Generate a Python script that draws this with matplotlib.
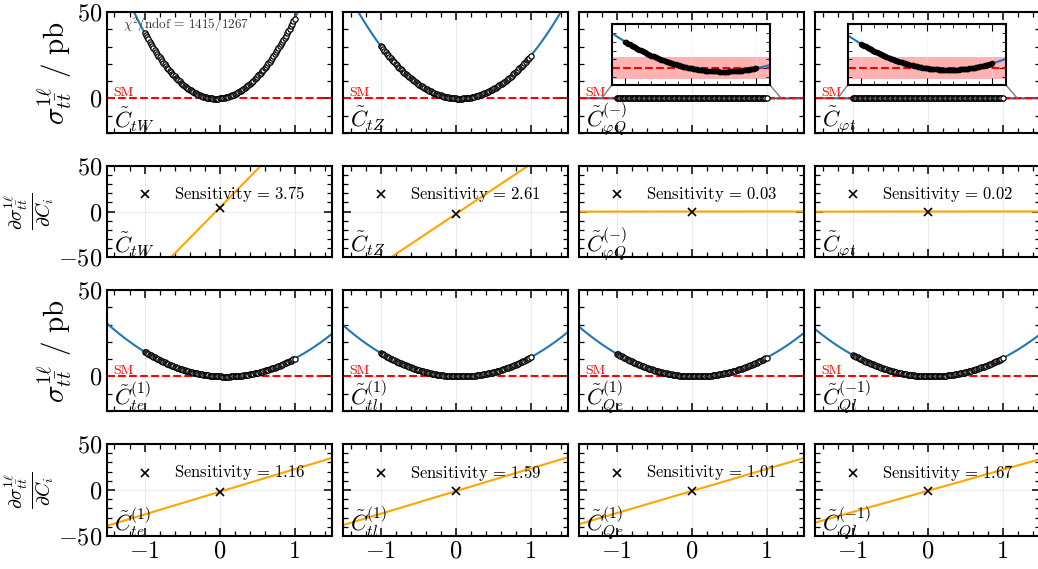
import numpy as np
import matplotlib.pyplot as plt
from matplotlib.ticker import MultipleLocator
from mpl_toolkits.axes_grid1.inset_locator import mark_inset

plt.rcParams['mathtext.fontset'] = 'cm'
plt.rcParams['font.family'] = 'serif'
plt.rcParams['font.serif'] = ['cmr10', 'DejaVu Serif']
plt.rcParams['axes.formatter.use_mathtext'] = True

# operator names for the two blocks of rows
top_ops = [r'$\tilde{C}_{tW}$', r'$\tilde{C}_{tZ}$',
           r'$\tilde{C}_{\varphi Q}^{(-)}$', r'$\tilde{C}_{\varphi t}$']
bot_ops = [r'$\tilde{C}_{te}^{(1)}$', r'$\tilde{C}_{tl}^{(1)}$',
           r'$\tilde{C}_{Qe}^{(1)}$', r'$\tilde{C}_{Ql}^{(-1)}$']

# quadratic fit sigma(C) = quad*C^2 + lin*C (pb)
top_quad = [42.0, 27.5, 0.03, 0.033]
top_lin = [4.0, -3.0, -0.03, -0.022]
bot_quad = [12.3, 12.3, 12.0, 11.5]
bot_lin = [-2.0, -1.3, -1.2, -1.0]

top_sens = ['3.75', '2.61', '0.03', '0.02']
bot_sens = ['1.16', '1.59', '1.01', '1.67']

chi2_text = r'$\chi^2/\mathrm{ndof}\,=\,1415/1267$'

# scan of the Wilson coefficient
scan_lo, scan_hi, scan_n = -1.0, 1.0, 121
# SM uncertainty band in the zoomed insets
sm_band = 0.025
inset_xlim = (-1.2, 1.2)
inset_ylim = (-0.037, 0.1)

W, H = 1038, 569
fig = plt.figure(figsize=(W / 100, H / 100), dpi=100)

col_x = [107, 343, 579, 815]
col_w = 225
row_y = [(12, 133), (166, 257), (290, 411), (444, 536)]

xs = np.linspace(-1.5, 1.5, 301)
scan = np.linspace(scan_lo, scan_hi, scan_n)


def add_ax(c, r):
    top, bot = row_y[r]
    return fig.add_axes([col_x[c] / W, 1 - bot / H, col_w / W, (bot - top) / H])


def style(ax, ylim, first_col, bottom_row):
    ax.set_xlim(-1.5, 1.5)
    ax.set_ylim(*ylim)
    ax.xaxis.set_major_locator(MultipleLocator(1))
    ax.xaxis.set_minor_locator(MultipleLocator(0.2))
    ax.yaxis.set_major_locator(MultipleLocator(50))
    ax.yaxis.set_minor_locator(MultipleLocator(10))
    ax.tick_params(which='both', direction='in', top=True, right=True, labelsize=17.5)
    ax.tick_params(which='major', length=6, width=1.1)
    ax.tick_params(which='minor', length=3.5, width=0.9)
    ax.tick_params(labelleft=first_col, labelbottom=bottom_row)
    ax.grid(True, color='0.92', lw=0.8, zorder=0)
    for s in ax.spines.values():
        s.set_linewidth(1.5)


def sigma_panel(ax, quad, lin, op):
    ax.plot(xs, np.polyval([quad, lin, 0], xs), color='tab:blue', lw=1.5, zorder=2)
    ax.axhline(0, color='red', ls='--', lw=1.5, zorder=2.5)
    ax.plot(scan, np.polyval([quad, lin, 0], scan), 'o', mfc='white', mec='black',
            ms=3.8, mew=0.9, zorder=3)
    ax.text(-1.42, 1.5, 'SM', color='red', fontsize=10)
    ax.text(0.03, 0.05, op, transform=ax.transAxes, fontsize=16)


def deriv_panel(ax, quad, lin, op, sens):
    ax.plot(xs, lin + 2 * quad * xs, color='orange', lw=1.5, zorder=2)
    ax.plot([0], [lin], 'x', color='black', ms=6, mew=1.2, zorder=3)
    ax.plot([-1], [19], 'x', color='black', ms=6, mew=1.2, zorder=3)
    ax.text(-0.6, 19, r'$\mathrm{Sensitivity}\,=\,' + sens + '$', va='center', fontsize=12)
    ax.text(0.03, 0.05, op, transform=ax.transAxes, fontsize=16)


def add_inset(ax, quad, lin):
    axins = ax.inset_axes([0.147, 0.40, 0.70, 0.50])
    axins.axhspan(-sm_band, sm_band, color='red', alpha=0.3, lw=0)
    axins.axhline(0, color='red', ls='--', lw=1.5)
    axins.plot(xs, np.polyval([quad, lin, 0], xs), color='tab:blue', lw=1.5)
    axins.plot(scan, np.polyval([quad, lin, 0], scan), 'o', mfc='black', mec='black',
               ms=3, mew=1)
    axins.set_xlim(*inset_xlim)
    axins.set_ylim(*inset_ylim)
    axins.xaxis.set_major_locator(MultipleLocator(1))
    axins.xaxis.set_minor_locator(MultipleLocator(0.2))
    axins.yaxis.set_major_locator(MultipleLocator(0.1))
    axins.yaxis.set_minor_locator(MultipleLocator(0.02))
    axins.tick_params(which='both', direction='in', top=True, right=True,
                      labelleft=False, labelbottom=False)
    axins.tick_params(which='major', length=5)
    axins.tick_params(which='minor', length=3)
    axins.grid(True, color='0.92', lw=0.8, ls=':')
    for s in axins.spines.values():
        s.set_linewidth(1.5)
    mark_inset(ax, axins, loc1=3, loc2=4, fc='none', ec='0.5', lw=1)


sigma_label = r'$\sigma_{t\bar{t}}^{1\ell}\ /\ \mathrm{pb}$'
deriv_label = r'$\frac{\partial\sigma_{t\bar{t}}^{1\ell}}{\partial C_i}$'

blocks = [(0, top_quad, top_lin, top_ops, top_sens), (2, bot_quad, bot_lin, bot_ops, bot_sens)]
for r0, quads, lins, ops, sens in blocks:
    for c in range(4):
        ax = add_ax(c, r0)
        style(ax, (-20, 50), c == 0, False)
        sigma_panel(ax, quads[c], lins[c], ops[c])
        if r0 == 0 and c >= 2:
            add_inset(ax, quads[c], lins[c])
        if c == 0:
            ax.set_ylabel(sigma_label, fontsize=21, labelpad=2)
        if r0 == 0 and c == 0:
            ax.text(0.07, 0.86, chi2_text, transform=ax.transAxes, fontsize=9.5, color='0.2')

        ax2 = add_ax(c, r0 + 1)
        style(ax2, (-50, 50), c == 0, r0 + 1 == 3)
        deriv_panel(ax2, quads[c], lins[c], ops[c], sens[c])
        if c == 0:
            ax2.set_ylabel(deriv_label, fontsize=20, labelpad=1)

fig.savefig('out.png', dpi=100)
